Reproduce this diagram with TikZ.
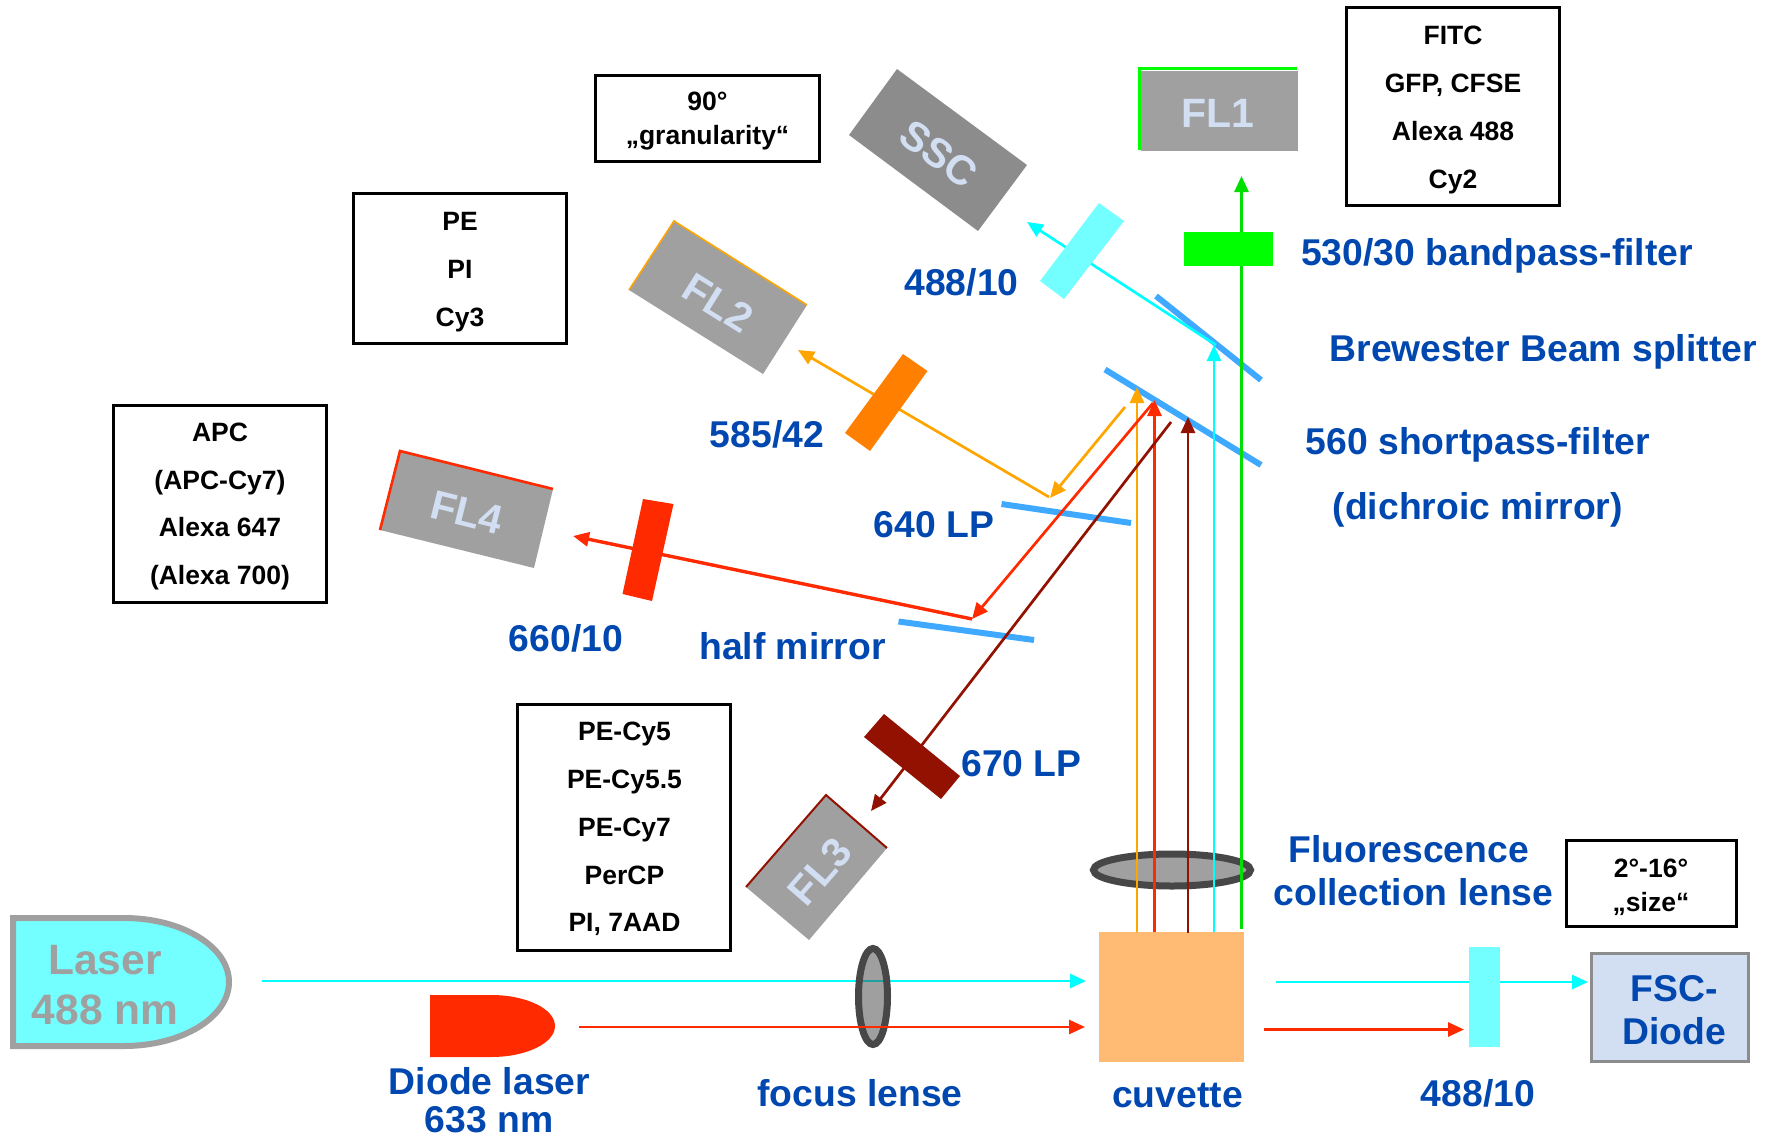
\documentclass[tikz,border=0pt]{standalone}
\usepackage{fontspec}
\setmainfont{Liberation Sans}
\usetikzlibrary{arrows.meta,shapes.geometric}
\definecolor{lblue}{HTML}{0047AF}
\definecolor{mblue}{HTML}{3FA9FF}
\definecolor{fcyan}{HTML}{73FFFF}
\definecolor{lcyan}{HTML}{00FFFF}
\definecolor{lred}{HTML}{FF2A00}
\definecolor{lorange}{HTML}{FFA500}
\definecolor{forange}{HTML}{FF8000}
\definecolor{dred}{HTML}{931100}
\definecolor{lgreen}{HTML}{00E000}
\definecolor{fgreen}{HTML}{00FF00}
\definecolor{detgray}{HTML}{A0A0A0}
\definecolor{sscgray}{HTML}{8C8C8C}
\definecolor{lensedge}{HTML}{474747}
\definecolor{pale}{HTML}{D2DEF2}
\definecolor{cuv}{HTML}{FFBB73}
\tikzset{
  bluelabel/.style={text=lblue,font=\fontsize{37.3}{42}\selectfont\bfseries,inner sep=0pt,text height=27pt,text depth=0pt},
  blueleft/.style={bluelabel,anchor=west},
  boxline/.style={draw=black,line width=3pt,fill=white},
  boxtext/.style={font=\fontsize{26.5}{47.8}\selectfont\bfseries,align=center,inner sep=0pt,text=black},
  angletext/.style={font=\fontsize{26.5}{34}\selectfont\bfseries,align=center,inner sep=0pt,text=black},
  dettext/.style={text=pale,font=\fontsize{41}{44}\selectfont\bfseries,inner sep=0pt},
  mirror/.style={draw=mblue,line width=6pt},
  ray/.style={line width=2.7pt,-{Triangle[length=16pt,width=14pt]}},
  lensbody/.style={ellipse,draw=lensedge,line width=7pt,inner sep=0pt},
}
\begin{document}
\begin{tikzpicture}[x=1pt,y=-1pt]
\useasboundingbox (0,0) rectangle (1772,1135);
% named end points
\coordinate (las) at (262,981);
\coordinate (cuvA) at (1086,981);
\coordinate (dio) at (579,1027);
\coordinate (cuvB) at (1085,1027);
\coordinate (fscOutA) at (1276,982);
\coordinate (fscIn) at (1588,982);
\coordinate (fscOutB) at (1264,1029.5);
\coordinate (filtB) at (1464,1029.5);
\coordinate (vO) at (1137,932);
\coordinate (vOt) at (1137,387);
\coordinate (vR) at (1154.5,932);
\coordinate (vRt) at (1154.5,400);
\coordinate (vD) at (1188,933);
\coordinate (vDt) at (1188,417);
\coordinate (vC) at (1214,932);
\coordinate (vCt) at (1214,345);
\coordinate (vG) at (1241.5,929);
\coordinate (vGt) at (1241.5,176);
\coordinate (bsHit) at (1216,345);
\coordinate (sscIn) at (1027,222);
\coordinate (o1) at (1125,407);
\coordinate (o2) at (1050,498);
\coordinate (o3) at (1049,497);
\coordinate (fl2In) at (798,350);
\coordinate (r1) at (1153,403);
\coordinate (r2) at (972,619);
\coordinate (fl4In) at (573,536);
\coordinate (d1) at (1171,422);
\coordinate (fl3In) at (871,811);
% mirrors
\coordinate (m1a) at (1156,296); \coordinate (m1b) at (1261,380);
\coordinate (m2a) at (1105,369.5); \coordinate (m2b) at (1261,465);
\coordinate (m3a) at (1001.5,504); \coordinate (m3b) at (1131,523);
\coordinate (m4a) at (898.5,621.5); \coordinate (m4b) at (1034,640);
\draw[mirror] (m1a) -- (m1b);
\draw[mirror] (m2a) -- (m2b);
\draw[mirror] (m3a) -- (m3b);
\draw[mirror] (m4a) -- (m4b);
% cyan beam under the focus lens
\draw[ray,lcyan] (las) -- (cuvA);
\node[lensbody,fill=black!75,fill opacity=.5,draw opacity=1,minimum width=29pt,minimum height=96pt] (flens) at (873,996.5) {};
% collection lens
\node[lensbody,fill=detgray,minimum width=157pt,minimum height=32pt] (clens) at (1172,870) {};
% cuvette
\node[fill=cuv,minimum width=145pt,minimum height=130pt,inner sep=0pt] (cuvette) at (1171.5,997) {};
% rays
\draw[ray,lred] (dio) -- (cuvB);
\draw[ray,lcyan] (fscOutA) -- (fscIn);
\draw[ray,lred] (fscOutB) -- (filtB);
\draw[ray,lorange] (vO) -- (vOt);
\draw[ray,lred] (vR) -- (vRt);
\draw[ray,dred] (vD) -- (vDt);
\draw[ray,lcyan] (vC) -- (vCt);
\draw[ray,lgreen] (vG) -- (vGt);
\draw[ray,lcyan] (bsHit) -- (sscIn);
\draw[ray,lorange] (o1) -- (o2);
\draw[ray,lorange] (o3) -- (fl2In);
\draw[ray,lred] (r1) -- (r2);
\draw[ray,lred,line width=3.4pt] (r2) -- (fl4In);
\draw[ray,dred] (d1) -- (fl3In);
% filters
\fill[fgreen] (1184,232) rectangle (1273,266);
\fill[fcyan] (1099,203) -- (1124,221) -- (1064,299) -- (1040,281) -- cycle;
\fill[forange] (903,354) -- (927.5,371) -- (870,451) -- (845,433) -- cycle;
\fill[lred] (643,499) -- (673.5,504) -- (652,601) -- (622.5,594) -- cycle;
\fill[dred] (884,714) -- (960,776) -- (941,799) -- (864,737) -- cycle;
\fill[fcyan] (1469,947) rectangle (1500,1046.5);
% detectors
\fill[sscgray] (897,69) -- (1027,165) -- (978,231) -- (849,135) -- cycle;
\node[dettext,rotate=-36.5] (ssc) at (939,154) {SSC};
\fill[detgray] (1141,71) rectangle (1298,151);
\draw[fgreen,line width=3pt] (1139.5,150) -- (1139.5,68.5) -- (1297,68.5);
\node[dettext] (fl1) at (1218,113) {FL1};
\fill[detgray] (674,221) -- (807,305) -- (763,374) -- (629,290) -- cycle;
\draw[lorange,line width=1.6pt] (629,290) -- (674,221) -- (807,305);
\node[dettext,rotate=-32] (fl2) at (718,303) {FL2};
\fill[detgray] (400,451) -- (553,489) -- (534,568) -- (380,530) -- cycle;
\draw[lred,line width=2.6pt] (380,530) -- (400,451) -- (553,489);
\node[dettext,rotate=-14] (fl4) at (467,513) {FL4};
\fill[detgray] (826,795) -- (887,848) -- (809,940) -- (746,887) -- cycle;
\draw[dred,line width=2pt] (746,887) -- (826,795) -- (887,848);
\node[dettext,rotate=49] (fl3) at (820,871.5) {FL3};
% lasers
\path[fill=fcyan,draw=detgray,line width=6pt] (13,918) -- (124,918) arc[start angle=90,end angle=-90,x radius=105pt,y radius=64pt] -- (13,1046) -- cycle;
\node[text=detgray,font=\fontsize{42.5}{50}\selectfont\bfseries,align=center,inner sep=0pt] (laser) at (105,985) {Laser\\488 nm};
\fill[lred] (430,995) -- (491,995) arc[start angle=90,end angle=-90,x radius=64pt,y radius=31pt] -- (430,1057) -- cycle;
% FSC
\node[draw=sscgray,line width=3pt,fill=pale,minimum width=157pt,minimum height=108pt,inner sep=0pt] (fsc) at (1669.5,1007) {};
\node[text=lblue,font=\fontsize{37.3}{43}\selectfont\bfseries,align=center,inner sep=0pt] (fsctext) at (1674,1010) {FSC-\\Diode};
% dye boxes
\node[boxline,minimum width=213pt,minimum height=198.5pt,inner sep=0pt] (fitc) at (1452.5,106.5) {};
\node[boxtext] (fitct) at (1453,110) {FITC\\GFP, CFSE\\Alexa 488\\Cy2};
\node[boxline,minimum width=213pt,minimum height=150pt,inner sep=0pt] (pe) at (460,268.5) {};
\node[boxtext] (pet) at (460,272) {PE\\PI\\Cy3};
\node[boxline,minimum width=213pt,minimum height=197pt,inner sep=0pt] (apc) at (220,503.5) {};
\node[boxtext] (apct) at (220,506.5) {APC\\(APC-Cy7)\\Alexa 647\\(Alexa 700)};
\node[boxline,minimum width=213pt,minimum height=246pt,inner sep=0pt] (pecy) at (624,827) {};
\node[boxtext] (pecyt) at (624.5,829) {PE-Cy5\\PE-Cy5.5\\PE-Cy7\\PerCP\\PI, 7AAD};
\node[boxline,minimum width=224pt,minimum height=86pt,inner sep=0pt] (gran) at (707.5,118.5) {};
\node[angletext] (grant) at (707.5,121.5) {90°\\„granularity“};
\node[boxline,minimum width=170pt,minimum height=86pt,inner sep=0pt] (sizebox) at (1651.5,883.5) {};
\node[angletext] (sizet) at (1651,887) {2°-16°\\„size“};
% blue labels
\node[bluelabel] (t48810a) at (961.5,281.5) {488/10};
\node[blueleft] (t530) at (1301,252) {530/30 bandpass-filter};
\node[blueleft] (tbrew) at (1329.5,348) {Brewester Beam splitter};
\node[blueleft] (t560) at (1305.5,441) {560 shortpass-filter};
\node[blueleft] (tdich) at (1332.5,506) {(dichroic mirror)};
\node[bluelabel] (t640) at (934,523.5) {640 LP};
\node[bluelabel] (t585) at (767,433.5) {585/42};
\node[bluelabel] (t660) at (566,638) {660/10};
\node[bluelabel] (thalf) at (792.5,646) {half mirror};
\node[bluelabel] (t670) at (1021.5,763) {670 LP};
\node[bluelabel] (tfocus) at (860,1093) {focus lense};
\node[bluelabel] (tdiode) at (489.5,1081) {Diode laser};
\node[bluelabel] (t633) at (489,1119) {633 nm};
\node[bluelabel] (tcuv) at (1177.5,1093.5) {cuvette};
\node[bluelabel] (t48810b) at (1478,1093) {488/10};
\node[bluelabel] (tfl) at (1408.5,849) {Fluorescence};
\node[bluelabel] (tcoll) at (1413.5,892) {collection lense};
\end{tikzpicture}
\end{document}
